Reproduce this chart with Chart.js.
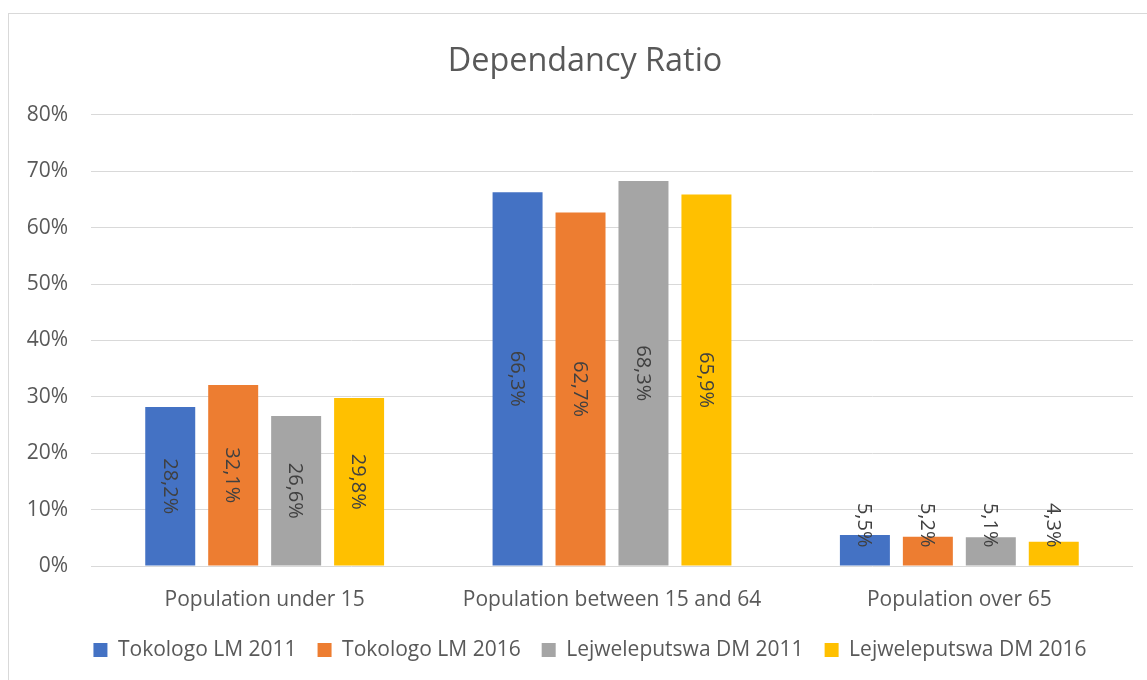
<!DOCTYPE html>
<html>
<head>
<meta charset="utf-8">
<script src="https://cdn.jsdelivr.net/npm/chart.js@4/dist/chart.umd.min.js"></script>
<style>
html,body{margin:0;padding:0;background:#fff;overflow:hidden}
#wrap{position:relative;width:1147px;height:680px;overflow:hidden}
#frame{position:absolute;left:8px;top:13px;width:1200px;height:720px;border:1px solid #d9d9d9;box-sizing:border-box}
#c{position:absolute;left:0;top:0}
</style>
</head>
<body>
<div id="wrap"><div id="frame"></div><canvas id="c" width="1147" height="680"></canvas></div>
<script>
const titleText = 'Dependancy Ratio';
const categories = ['Population under 15', 'Population between 15 and 64', 'Population over 65'];
const seriesNames = ['Tokologo LM 2011', 'Tokologo LM 2016', 'Lejweleputswa DM 2011', 'Lejweleputswa DM 2016'];
const tokologo2011 = [28.2, 66.3, 5.5];
const tokologo2016 = [32.1, 62.7, 5.2];
const lejweleputswa2011 = [26.6, 68.3, 5.1];
const lejweleputswa2016 = [29.8, 65.9, 4.3];
const seriesColors = ['#4472C4', '#ED7D31', '#A5A5A5', '#FFC000'];
const yTickValues = [0, 10, 20, 30, 40, 50, 60, 70, 80];

const seriesValues = [tokologo2011, tokologo2016, lejweleputswa2011, lejweleputswa2016];
const fmtLabel = v => v.toFixed(1).replace('.', ',') + '%';

const barLabelPlugin = {
  id: 'barLabels',
  afterDatasetsDraw(chart) {
    const ctx = chart.ctx;
    ctx.save();
    ctx.font = '20px "Open Sans"';
    ctx.fillStyle = '#404040';
    ctx.textAlign = 'center';
    ctx.textBaseline = 'middle';
    chart.data.datasets.forEach((ds, i) => {
      const meta = chart.getDatasetMeta(i);
      meta.data.forEach((bar, j) => {
        const txt = fmtLabel(ds.data[j]);
        const len = ctx.measureText(txt).width;
        const h = bar.base - bar.y;
        let cy = (bar.y + bar.base) / 2;
        if (len > h) cy = bar.base - 18 - len / 2;
        ctx.save();
        ctx.translate(bar.x, cy);
        ctx.rotate(Math.PI / 2);
        ctx.fillText(txt, 0, 1);
        ctx.restore();
      });
    });
    ctx.restore();
  }
};

const boxShiftPlugin = {
  id: 'boxShift',
  afterLayout(chart) {
    if (chart.legend) { chart.legend.left = 47; }
    if (chart.titleBlock) { chart.titleBlock.left = 37; }
  }
};

new Chart(document.getElementById('c'), {
  type: 'bar',
  data: {
    labels: categories,
    datasets: seriesNames.map((name, i) => ({
      label: name,
      data: seriesValues[i],
      backgroundColor: seriesColors[i],
      borderWidth: 0,
      categoryPercentage: 0.725,
      barPercentage: 0.794
    }))
  },
  options: {
    responsive: false,
    animation: false,
    devicePixelRatio: 1,
    layout: { padding: { top: 0, left: 0, right: 14, bottom: 9.5 } },
    plugins: {
      title: {
        display: true,
        text: titleText,
        color: '#595959',
        font: { family: 'Open Sans', size: 32.4, weight: 'normal', lineHeight: 1.2 },
        padding: { top: 42, bottom: 34.1 }
      },
      legend: {
        position: 'bottom',
        labels: {
          color: '#595959',
          font: { family: 'Open Sans', size: 21 },
          boxWidth: 14,
          boxHeight: 14,
          padding: 21
        }
      },
      tooltip: { enabled: false }
    },
    scales: {
      x: {
        grid: { display: false, drawTicks: false },
        border: { display: false },
        ticks: {
          color: '#595959',
          font: { family: 'Open Sans', size: 21 },
          padding: 21,
          maxRotation: 0
        },
        afterFit: s => { s.height = 52.5; }
      },
      y: {
        min: 0,
        max: 80,
        afterBuildTicks: s => { s.ticks = yTickValues.map(v => ({ value: v })); },
        grid: { color: '#d9d9d9', lineWidth: 1, drawTicks: false },
        border: { display: false },
        ticks: {
          color: '#595959',
          font: { family: 'Open Sans', size: 21 },
          padding: 23,
          callback: v => v + '%'
        },
        afterFit: s => { s.width = 91; }
      }
    }
  },
  plugins: [barLabelPlugin, boxShiftPlugin]
});
</script>
</body>
</html>
